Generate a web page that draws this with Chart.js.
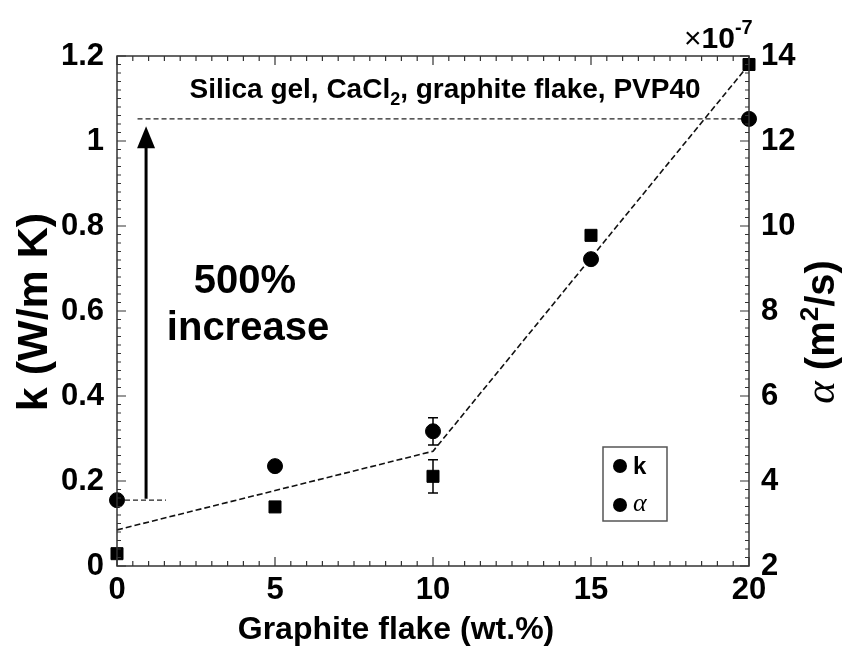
<!DOCTYPE html>
<html>
<head>
<meta charset="utf-8">
<script src="https://cdn.jsdelivr.net/npm/chart.js@4.4.0/dist/chart.umd.min.js"></script>
<style>
  html, body { margin: 0; padding: 0; background: #fff; }
  #wrap { width: 842px; height: 654px; position: relative; }
</style>
</head>
<body>
<div id="wrap"><canvas id="myChart"></canvas></div>
<script>
// values
const flake = [0, 5, 10, 15, 20]
const kVals = [0.155, 0.235, 0.317, 0.722, 1.052]
const kErr = [0, 0, 0.032, 0, 0]
const alphaVals = [2.29, 3.39, 4.11, 9.78, 13.8]   // x 1e-7 m2/s
const alphaErr = [0, 0, 0.39, 0, 0]
const fitX = [0, 10, 20]
const fitK = [0.085, 0.27, 1.18]
const lowRefX = [0, 1.55]
const highRefX = [0.65, 20]
const xTicks = [0, 5, 10, 15, 20]
const kTicks = [0, 0.2, 0.4, 0.6, 0.8, 1, 1.2]
const alphaTicks = [2, 4, 6, 8, 10, 12, 14]

const SANS = '"Liberation Sans", Arial, sans-serif'
const SERIF = '"Liberation Serif", "Times New Roman", serif'

const pts = (xs, ys) => xs.map((x, i) => ({ x: x, y: ys[i] }))

// draw a list of [text, font, dy] pieces left to right
function drawPieces(ctx, pieces, x, y, align) {
    let total = 0
    pieces.forEach(p => { ctx.font = p[1]; total += ctx.measureText(p[0]).width })
    let cx = align === 'center' ? x - total / 2 : x
    pieces.forEach(p => {
        ctx.font = p[1]
        ctx.fillText(p[0], cx, y + (p[2] || 0))
        cx += ctx.measureText(p[0]).width
    })
}

const extras = {
    id: 'extras',
    afterDatasetsDraw(chart) {
        const ctx = chart.ctx
        const { x, y, y2 } = chart.scales
        const a = chart.chartArea
        ctx.save()
        ctx.fillStyle = '#000'

        // frame
        ctx.lineWidth = 1.5
        ctx.strokeStyle = '#333'
        ctx.strokeRect(a.left, a.top, a.right - a.left, a.bottom - a.top)

        // inward ticks
        ctx.lineWidth = 1.2
        ctx.beginPath()
        for (let i = 0; i <= 40; i++) {
            const px = x.getPixelForValue(i * 0.5)
            const len = i % 10 === 0 ? 9 : 5
            ctx.moveTo(px, a.bottom); ctx.lineTo(px, a.bottom - len)
            ctx.moveTo(px, a.top); ctx.lineTo(px, a.top + len)
        }
        for (let i = 0; i <= 60; i++) {
            const len = i % 10 === 0 ? 9 : 4
            const py = y.getPixelForValue(i * 0.02)
            ctx.moveTo(a.left, py); ctx.lineTo(a.left + len, py)
            const py2 = y2.getPixelForValue(2 + i * 0.2)
            ctx.moveTo(a.right, py2); ctx.lineTo(a.right - len, py2)
        }
        ctx.stroke()

        // error bars
        ctx.strokeStyle = '#000'
        ctx.lineWidth = 1.5
        const bar = (px, lo, hi) => {
            ctx.beginPath()
            ctx.moveTo(px, lo); ctx.lineTo(px, hi)
            ctx.moveTo(px - 5, lo); ctx.lineTo(px + 5, lo)
            ctx.moveTo(px - 5, hi); ctx.lineTo(px + 5, hi)
            ctx.stroke()
        }
        flake.forEach((f, i) => {
            const px = x.getPixelForValue(f)
            if (kErr[i] > 0) bar(px, y.getPixelForValue(kVals[i] - kErr[i]), y.getPixelForValue(kVals[i] + kErr[i]))
            if (alphaErr[i] > 0) bar(px, y2.getPixelForValue(alphaVals[i] - alphaErr[i]), y2.getPixelForValue(alphaVals[i] + alphaErr[i]))
        })

        // arrow
        const ax = x.getPixelForValue(0.92)
        const aBot = y.getPixelForValue(kVals[0] + 0.003)
        const aTip = y.getPixelForValue(1.035)
        ctx.lineWidth = 3
        ctx.beginPath()
        ctx.moveTo(ax, aBot); ctx.lineTo(ax, aTip + 18)
        ctx.stroke()
        ctx.beginPath()
        ctx.moveTo(ax, aTip); ctx.lineTo(ax - 9, aTip + 22); ctx.lineTo(ax + 9, aTip + 22)
        ctx.closePath(); ctx.fill()

        // texts
        ctx.textBaseline = 'alphabetic'
        ctx.textAlign = 'left'
        drawPieces(ctx, [
            ['Silica gel, CaCl', 'bold 28px ' + SANS],
            ['2', 'bold 18px ' + SANS, 7],
            [', graphite flake, PVP40', 'bold 28px ' + SANS]
        ], 445, 98, 'center')

        ctx.font = 'bold 40px ' + SANS
        ctx.textAlign = 'center'
        ctx.fillText('500%', 245, 293)
        ctx.fillText('increase', 248, 340)

        // exponent
        ctx.textAlign = 'left'
        drawPieces(ctx, [
            ['\u00d7', '30px ' + SANS],
            ['10', 'bold 30px ' + SANS],
            ['-7', 'bold 20px ' + SANS, -14]
        ], 684, 48)

        // axis titles
        ctx.font = 'bold 32px ' + SANS
        ctx.textAlign = 'center'
        ctx.fillText('Graphite flake (wt.%)', 396, 639)

        ctx.save()
        ctx.translate(47, 312)
        ctx.rotate(-Math.PI / 2)
        ctx.font = 'bold 43px ' + SANS
        ctx.fillText('k (W/m K)', 0, 0)
        ctx.restore()

        ctx.save()
        ctx.translate(834, 332)
        ctx.rotate(-Math.PI / 2)
        ctx.textAlign = 'left'
        drawPieces(ctx, [
            ['\u03b1', 'italic 43px ' + SERIF],
            [' (m', 'bold 40px ' + SANS],
            ['2', 'bold 26px ' + SANS, -16],
            ['/s)', 'bold 40px ' + SANS]
        ], 0, 0, 'center')
        ctx.restore()

        // legend
        const lx = 603, ly = 447, lw = 64, lh = 74
        ctx.fillStyle = '#fff'
        ctx.fillRect(lx, ly, lw, lh)
        ctx.strokeStyle = '#555'
        ctx.lineWidth = 1.5
        ctx.strokeRect(lx, ly, lw, lh)
        ctx.fillStyle = '#000'
        ;[466, 505].forEach(cy => {
            ctx.beginPath(); ctx.arc(lx + 17, cy, 7, 0, Math.PI * 2); ctx.fill()
        })
        ctx.textAlign = 'left'
        ctx.textBaseline = 'middle'
        ctx.font = 'bold 24px ' + SANS
        ctx.fillText('k', lx + 30, 467)
        ctx.font = 'italic 26px ' + SERIF
        ctx.fillText('\u03b1', lx + 30, 504)

        ctx.restore()
    }
}

const tickFont = { family: SANS, size: 31, weight: 'bold' }

const config = {
    type: 'scatter',
    data: {
        datasets: [
            {
                label: 'k',
                data: pts(flake, kVals),
                yAxisID: 'y',
                pointStyle: 'circle',
                pointRadius: 7.5,
                pointBackgroundColor: '#000',
                pointBorderColor: '#000',
                showLine: false,
                clip: false
            },
            {
                label: '\u03b1',
                data: pts(flake, alphaVals),
                yAxisID: 'y2',
                pointStyle: 'rect',
                pointRadius: 8.5,
                pointBackgroundColor: '#000',
                pointBorderColor: '#000',
                showLine: false,
                clip: false
            },
            {
                label: 'fit',
                data: pts(fitX, fitK),
                yAxisID: 'y',
                showLine: true,
                borderColor: '#111',
                borderWidth: 1.6,
                borderDash: [6, 3],
                pointRadius: 0,
                clip: false
            },
            {
                label: 'low',
                data: pts(lowRefX, [kVals[0], kVals[0]]),
                yAxisID: 'y',
                showLine: true,
                borderColor: '#222',
                borderWidth: 1.3,
                borderDash: [5, 3],
                pointRadius: 0
            },
            {
                label: 'high',
                data: pts(highRefX, [kVals[4], kVals[4]]),
                yAxisID: 'y',
                showLine: true,
                borderColor: '#222',
                borderWidth: 1.3,
                borderDash: [5, 3],
                pointRadius: 0
            }
        ]
    },
    options: {
        responsive: false,
        animation: false,
        layout: { padding: { top: 56, left: 0, right: 0, bottom: 0 } },
        plugins: { legend: { display: false }, tooltip: { enabled: false } },
        scales: {
            x: {
                type: 'linear', min: 0, max: 20,
                afterBuildTicks: s => { s.ticks = xTicks.map(v => ({ value: v })) },
                afterFit: s => { s.height = 88 },
                grid: { display: false }, border: { display: false },
                ticks: { font: tickFont, color: '#000', padding: -2, maxRotation: 0 }
            },
            y: {
                type: 'linear', position: 'left', min: 0, max: 1.2,
                afterBuildTicks: s => { s.ticks = kTicks.map(v => ({ value: v })) },
                afterFit: s => { s.width = 117 },
                grid: { display: false }, border: { display: false },
                ticks: { font: tickFont, color: '#000', padding: 5, callback: v => String(+v.toFixed(1)) }
            },
            y2: {
                type: 'linear', position: 'right', min: 2, max: 14,
                afterBuildTicks: s => { s.ticks = alphaTicks.map(v => ({ value: v })) },
                afterFit: s => { s.width = 93 },
                grid: { display: false }, border: { display: false },
                ticks: { font: tickFont, color: '#000', padding: 4 }
            }
        }
    },
    plugins: [extras]
}

const canvas = document.getElementById('myChart')
canvas.width = 842
canvas.height = 654
const chart = new Chart(canvas, config)
</script>
</body>
</html>
